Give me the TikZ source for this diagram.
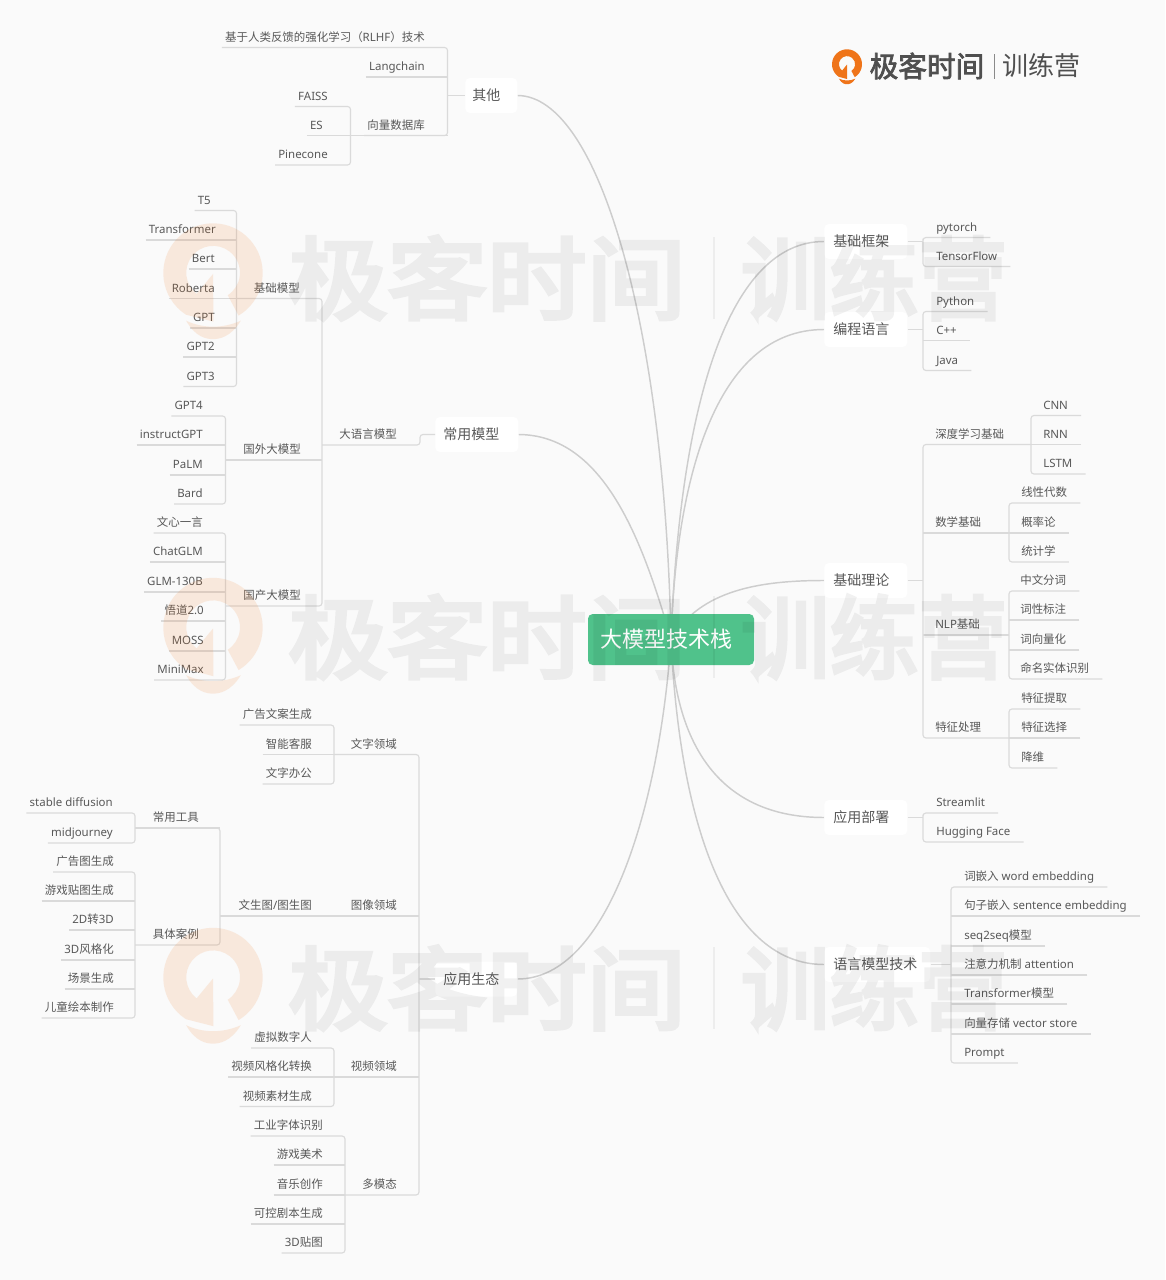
\documentclass[tikz,border=0pt]{standalone}
\usepackage{fontspec}
\setmainfont{Noto Sans}
\newfontfamily\zhfont{Noto Sans CJK SC}
\newfontfamily\wmfont[FakeBold=4.5]{Noto Sans CJK SC}
\newfontfamily\lgfont[FakeBold=2.5]{Noto Sans CJK SC}
\newcommand{\zh}[1]{{\zhfont #1}}
\definecolor{bgc}{HTML}{FAFAFA}
\definecolor{txc}{HTML}{585858}
\definecolor{lnc}{HTML}{DADADA}
\definecolor{crv}{HTML}{CDCDCD}
\definecolor{grn}{HTML}{50C28B}
\definecolor{org}{HTML}{EF7419}
\pgfdeclarelayer{bg}
\pgfdeclarelayer{top}
\pgfsetlayers{bg,main,top}
\tikzset{
 leaf/.style={font=\fontsize{8.6pt}{10pt}\selectfont,text=txc,inner ysep=2.25pt,text height=7.5pt,text depth=2.25pt},
 leafl/.style={leaf,anchor=south east,inner xsep=2.25pt},
 leafr/.style={leaf,anchor=south west,inner xsep=9.75pt},
 conn/.style={draw=lnc,line width=0.85pt,rounded corners=2.2pt},
 curve/.style={draw=crv,line width=1.1pt},
 topic/.style={fill=white,rounded corners=3.5pt,anchor=west,text=txc,font=\fontsize{10.5pt}{12pt}\selectfont,align=left,inner xsep=6.75pt,minimum height=26.25pt,inner ysep=0pt,text height=10.5pt,text depth=2.5pt},
 wmk/.style={text=black,inner sep=0pt,font=\wmfont\fontsize{67.5pt}{70pt}\selectfont}
}
% left leaf: name, text right end, underline y, text
\newcommand{\lfn}[4]{\node[leafl] (#1) at (#2+3,#3) {#4};}
% right leaf: name, text left end, underline y, text
\newcommand{\rtn}[4]{\node[leafr] (#1) at (#2-13,#3) {#4};}
% trunks: coordinate, first, last, middles
\newcommand{\trL}[4]{\draw[conn] (#2.south west) -| (#1) |- (#3.south west);
 \foreach \m in {#4} {\draw[conn] (\m.south west) -- (\m.south west -| #1);}}
\newcommand{\trR}[4]{\draw[conn] (#2.south east) -| (#1) |- (#3.south east);
 \foreach \m in {#4} {\draw[conn] (\m.south east) -- (\m.south east -| #1);}}
% logo mark: x, y, radius, colour, opacity
\newcommand{\logomark}[5]{%
 \begin{scope}[shift={(#1,#2)},x=#3*0.75pt,y=#3*0.75pt]
 \fill[#4,opacity=#5] (-59:1) arc[start angle=-59,end angle=237,radius=1]
  -- (0.01,-0.98) -- (0,-0.02) -- (-0.33,-0.42)
  arc[start angle=232,end angle=-57,radius=0.54] -- cycle;
 \fill[#4,opacity=#5] (-0.54,-0.96) .. controls (-0.2,-1.12) and (0.2,-1.12) .. (0.56,-0.96)
  .. controls (0.35,-1.3) and (0.12,-1.33) .. (0,-1.33)
  .. controls (-0.12,-1.33) and (-0.35,-1.3) .. (-0.54,-0.96) -- cycle;
 \end{scope}}
\newcommand{\wmrow}[2]{%
 \begin{scope}[transparency group,opacity=0.055]
 \node[wmk,anchor=center] at (487,#1) {\scalebox{1.105}[1]{极客时间}};
 \node[wmk,anchor=center] at (874,#1) {\scalebox{0.985}[1]{训练营}};
 \end{scope}
 \fill[black,opacity=0.05] (713,#1-41) rectangle (715,#1+41);
 \logomark{213}{#2}{49.7}{org}{0.13}}
\begin{document}
\begin{tikzpicture}[x=0.75pt,y=-0.75pt]
\useasboundingbox (0,0) rectangle (1165,1280);
\begin{pgfonlayer}{bg}
\fill[bgc] (0,0) rectangle (1165,1280);
\end{pgfonlayer}

% centre and topics
\node[fill=grn,rounded corners=3.5pt,text=white,font=\zhfont\fontsize{16.5pt}{18pt}\selectfont,minimum width=124.5pt,minimum height=38.25pt,inner sep=0pt,text height=15pt,text depth=3pt] (ctr) at (671,639.5) {\hspace*{-7pt}大模型技术栈};
\node[topic,inner xsep=5.25pt,text width=28.5pt] (tOther) at (465,95.5) {\zh{其他}};
\node[topic,inner xsep=6pt,text width=50.25pt] (tModel) at (435,434.5) {\zh{常用模型}};
\node[topic,inner xsep=6pt,text width=49.5pt] (tApp) at (435,979) {\zh{应用生态}};
\node[topic,text width=48.75pt] (tFrame) at (824,241.5) {\zh{基础框架}};
\node[topic,text width=48.75pt] (tLang) at (824,329.5) {\zh{编程语言}};
\node[topic,text width=48.75pt] (tTheory) at (824,580.5) {\zh{基础理论}};
\node[topic,text width=48.75pt] (tDeploy) at (824,817.5) {\zh{应用部署}};
\node[topic,text width=66pt] (tTech) at (824,964.5) {\zh{语言模型技术}};

\begin{pgfonlayer}{bg}
\draw[curve] (ctr.center) .. controls (665,330) and (600,96) .. (tOther.east);
\draw[curve] (ctr.center) .. controls (640,530) and (600,435) .. (tModel.east);
\draw[curve] (ctr.center) .. controls (660,800) and (610,979) .. (tApp.east);
\draw[curve] (ctr.center) .. controls (680,400) and (730,241.5) .. (tFrame.west);
\draw[curve] (ctr.center) .. controls (676,480) and (715,329.5) .. (tLang.west);
\draw[curve] (ctr.center) .. controls (700,590) and (760,580.5) .. (tTheory.west);
\draw[curve] (ctr.center) .. controls (675,745) and (720,817.5) .. (tDeploy.west);
\draw[curve] (ctr.center) .. controls (680,830) and (730,964.5) .. (tTech.west);
\end{pgfonlayer}

% ---------- Other
\lfn{rlhf}{425}{47.5}{\zh{基于人类反馈的强化学习（}RLHF\zh{）技术}}
\lfn{langchain}{425}{77}{Langchain}
\lfn{vecdb}{425}{135.5}{\zh{向量数据库}}
\lfn{faiss}{328}{106.5}{FAISS}
\lfn{es}{323}{135.5}{ES}
\lfn{pinecone}{328}{165}{Pinecone}
\coordinate (trOther) at (447.5,95.5);
\coordinate (trVec) at (350.5,135.5);
\trL{trOther}{rlhf}{vecdb}{langchain}
\trL{trVec}{faiss}{pinecone}{es}
\draw[conn] (trVec) -- (trVec -| trOther);
\draw[conn] (trOther) -- (tOther.west);

% ---------- Common models
\lfn{t5}{211}{210.5}{T5}
\lfn{transformer}{216}{240}{Transformer}
\lfn{bert}{215}{269}{Bert}
\lfn{roberta}{215}{298.5}{Roberta}
\lfn{gpt}{215}{328}{GPT}
\lfn{gpt2}{215}{357}{GPT2}
\lfn{gpt3}{215}{386.5}{GPT3}
\lfn{base}{300}{298.5}{\zh{基础模型}}
\coordinate (trBase) at (236.5,298.5);
\trL{trBase}{t5}{gpt3}{transformer,bert,roberta,gpt,gpt2}

\lfn{gpt4}{203}{416}{GPT4}
\lfn{instruct}{203}{445}{instructGPT}
\lfn{palm}{203}{475}{PaLM}
\lfn{bard}{203}{504}{Bard}
\lfn{foreign}{301}{460}{\zh{国外大模型}}
\coordinate (trFor) at (225.5,460);
\trL{trFor}{gpt4}{bard}{instruct,palm}

\lfn{wenxin}{203}{533}{\zh{文心一言}}
\lfn{chatglm}{203}{562}{ChatGLM}
\lfn{glm}{203}{592}{GLM-130B}
\lfn{wudao}{204}{621}{\zh{悟道}2.0}
\lfn{moss}{204}{651}{MOSS}
\lfn{minimax}{204}{680}{MiniMax}
\lfn{domestic}{301}{606}{\zh{国产大模型}}
\coordinate (trDom) at (225.5,606);
\trL{trDom}{wenxin}{minimax}{chatglm,glm,wudao,moss}

\lfn{llm}{397}{445}{\zh{大语言模型}}
\coordinate (trLlm) at (322,445);
\draw[conn] (trBase) -| (trLlm) |- (trDom);
\draw[conn] (trFor) -- (trFor -| trLlm);
\draw[conn] (trLlm) -| (420,434.5) -- (tModel.west);

% ---------- Ecosystem
\lfn{ad}{312}{725}{\zh{广告文案生成}}
\lfn{service}{312}{754.5}{\zh{智能客服}}
\lfn{office}{312}{784}{\zh{文字办公}}
\lfn{wtext}{397}{754.5}{\zh{文字领域}}
\coordinate (trText) at (334,754.5);
\trL{trText}{ad}{office}{service}

\lfn{sd}{113}{813}{stable diffusion}
\lfn{mj}{113}{843}{midjourney}
\lfn{tools}{199}{828}{\zh{常用工具}}
\coordinate (trTool) at (135,828);
\trL{trTool}{sd}{mj}{}

\lfn{adimg}{114}{872}{\zh{广告图生成}}
\lfn{game}{114}{901}{\zh{游戏贴图生成}}
\lfn{twod}{114}{930}{2D\zh{转}3D}
\lfn{threed}{114}{960}{3D\zh{风格化}}
\lfn{scene}{114}{989}{\zh{场景生成}}
\lfn{kids}{114}{1018}{\zh{儿童绘本制作}}
\lfn{cases}{199}{945}{\zh{具体案例}}
\coordinate (trCase) at (135,945);
\trL{trCase}{adimg}{kids}{game,twod,threed,scene}

\lfn{t2i}{312}{916}{\zh{文生图}/\zh{图生图}}
\lfn{wimg}{397}{916}{\zh{图像领域}}
\coordinate (trImg) at (220,916);
\draw[conn] (trTool) -| (trImg) |- (trCase);
\draw[conn] (trTool) -- (trTool -| trImg);

\lfn{human}{312}{1048}{\zh{虚拟数字人}}
\lfn{style}{312}{1077}{\zh{视频风格化转换}}
\lfn{vmat}{312}{1106.5}{\zh{视频素材生成}}
\lfn{wvid}{397}{1077}{\zh{视频领域}}
\coordinate (trVid) at (334,1077);
\trL{trVid}{human}{vmat}{style}

\lfn{ocr}{323}{1136}{\zh{工业字体识别}}
\lfn{art}{323}{1165}{\zh{游戏美术}}
\lfn{music}{323}{1195}{\zh{音乐创作}}
\lfn{script}{323}{1224}{\zh{可控剧本生成}}
\lfn{map}{323}{1253}{3D\zh{贴图}}
\lfn{wmm}{397}{1195}{\zh{多模态}}
\coordinate (trMm) at (345,1195);
\trL{trMm}{ocr}{map}{art,music,script}

\coordinate (trApp) at (419,979);
\draw[conn] (trText) -| (trApp) |- (trMm);
\draw[conn] (trImg) -- (trImg -| trApp);
\draw[conn] (trVid) -- (trVid -| trApp);
\draw[conn] (trApp) -- (tApp.west);

% ---------- Frameworks
\rtn{pytorch}{936}{237.5}{pytorch}
\rtn{tf}{936}{266.5}{TensorFlow}
\coordinate (trFr) at (923,241.5);
\trR{trFr}{pytorch}{tf}{}
\draw[conn] (tFrame.east) -- (trFr);

\rtn{python}{936}{311.5}{Python}
\rtn{cpp}{936}{340.5}{C++}
\rtn{java}{936}{370.5}{Java}
\coordinate (trPl) at (923,329.5);
\trR{trPl}{python}{java}{cpp}
\draw[conn] (tLang.east) -- (trPl);

% ---------- Theory
\rtn{dl}{935}{444.5}{\zh{深度学习基础}}
\rtn{cnn}{1043}{415.5}{CNN}
\rtn{rnn}{1043}{444.5}{RNN}
\rtn{lstm}{1043}{474}{LSTM}
\coordinate (trDl) at (1031,444.5);
\trR{trDl}{cnn}{lstm}{rnn}

\rtn{math}{935}{533}{\zh{数学基础}}
\rtn{la}{1021}{503}{\zh{线性代数}}
\rtn{prob}{1021}{533}{\zh{概率论}}
\rtn{stat}{1021}{562}{\zh{统计学}}
\coordinate (trMath) at (1009,533);
\trR{trMath}{la}{stat}{prob}

\rtn{nlp}{935}{635}{NLP\zh{基础}}
\rtn{seg}{1020}{591}{\zh{中文分词}}
\rtn{pos}{1020}{620}{\zh{词性标注}}
\rtn{wv}{1020}{650}{\zh{词向量化}}
\rtn{ner}{1020}{679}{\zh{命名实体识别}}
\coordinate (trNlp) at (1009,635);
\trR{trNlp}{seg}{ner}{pos,wv}

\rtn{feat}{935}{738}{\zh{特征处理}}
\rtn{fx}{1021}{709}{\zh{特征提取}}
\rtn{fs}{1021}{738}{\zh{特征选择}}
\rtn{dr}{1021}{768}{\zh{降维}}
\coordinate (trFeat) at (1009,738);
\trR{trFeat}{fx}{dr}{fs}

\coordinate (trTh) at (923,580.5);
\draw[conn] (trDl) -| (trTh) |- (trFeat);
\draw[conn] (trMath) -- (trMath -| trTh);
\draw[conn] (trNlp) -- (trNlp -| trTh);
\draw[conn] (tTheory.east) -- (trTh);

% ---------- Deploy
\rtn{streamlit}{936}{813}{Streamlit}
\rtn{hf}{936}{842}{Hugging Face}
\coordinate (trDep) at (923,817.5);
\trR{trDep}{streamlit}{hf}{}
\draw[conn] (tDeploy.east) -- (trDep);

% ---------- Language model tech
\rtn{we}{964}{887}{\zh{词嵌入} word embedding}
\rtn{se}{964}{916}{\zh{句子嵌入} sentence embedding}
\rtn{s2s}{964}{946}{seq2seq\zh{模型}}
\rtn{att}{964}{975}{\zh{注意力机制} attention}
\rtn{tfm}{964}{1004}{Transformer\zh{模型}}
\rtn{vs}{964}{1034}{\zh{向量存储} vector store}
\rtn{prompt}{964}{1063}{Prompt}
\coordinate (trTech) at (951,964.5);
\trR{trTech}{we}{prompt}{se,s2s,att,tfm,vs}
\draw[conn] (tTech.east) -- (trTech);

% ---------- Logo and watermark
\logomark{847}{64.3}{15}{org}{1}
\node[text=txc!90!black,inner sep=0pt,font=\lgfont\fontsize{21.5pt}{24pt}\selectfont] (logoA) at (927,66) {极客时间};
\fill[txc!70] (993.5,54) rectangle (994.5,79);
\node[text=txc!90!black,inner sep=0pt,font=\zhfont\fontsize{19.5pt}{24pt}\selectfont] (logoB) at (1041.5,66) {训练营};

\begin{pgfonlayer}{top}
\wmrow{278}{273}
\wmrow{637}{627.5}
\wmrow{988}{977.5}
\end{pgfonlayer}
\end{tikzpicture}
\end{document}
